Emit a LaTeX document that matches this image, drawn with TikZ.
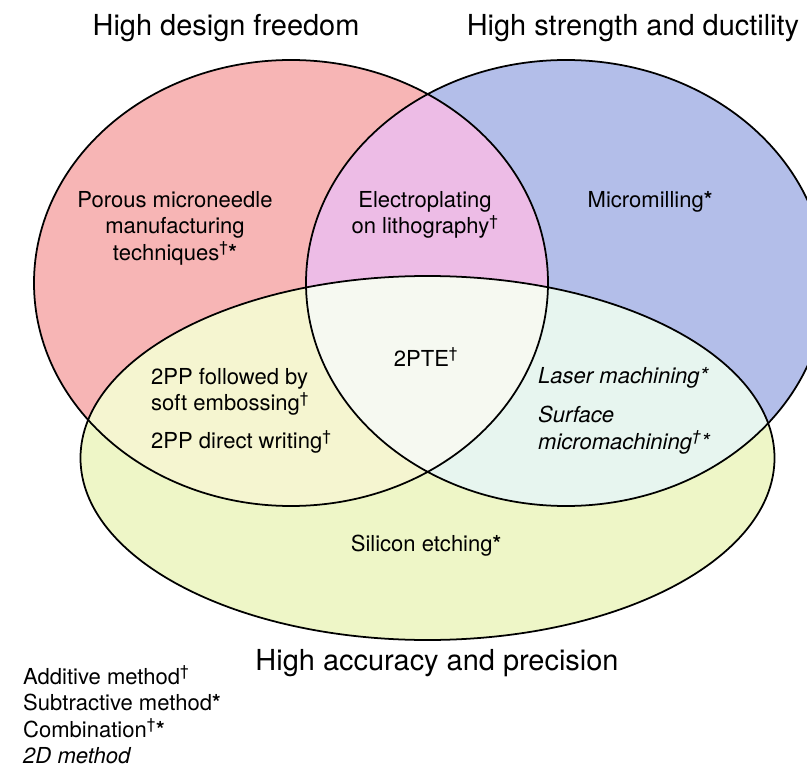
\documentclass[tikz,border=0pt]{standalone}
\usepackage{fontspec}
\setmainfont{TeX Gyre Heros}
\usetikzlibrary{shapes,positioning}

\definecolor{freedomred}{HTML}{F7B5B5}
\definecolor{strengthblue}{HTML}{B3BEE9}
\definecolor{accuracyyellow}{HTML}{EEF6C7}
\definecolor{redblue}{HTML}{EDBCE6}
\definecolor{redyellow}{HTML}{F5F5D0}
\definecolor{blueyellow}{HTML}{E7F5EF}
\definecolor{allthree}{HTML}{F6F9F1}

\def\freedomset{(291,283) ellipse [x radius=257, y radius=223]}
\def\strengthset{(566,283) ellipse [x radius=260, y radius=223]}
\def\accuracyset{(427.5,458) ellipse [x radius=347, y radius=182]}

\tikzset{
  lbl/.style={font=\fontsize{18.8}{22.6}\selectfont, inner sep=0pt},
  settitle/.style={font=\fontsize{24.7}{29}\selectfont, inner sep=0pt},
}
\newcommand{\subtr}{\textbf{*}}

\begin{document}
\begin{tikzpicture}[x=0.03cm, y=-0.03cm]
            \useasboundingbox (0,0) rectangle (807,765);
            \clip (0,0) rectangle (807,765);
            % the three sets
            \fill[freedomred] \freedomset;
            \fill[strengthblue] \strengthset;
            \fill[accuracyyellow] \accuracyset;
            % overlaps
            \begin{scope}
                \clip \freedomset;
                \fill[redblue] \strengthset;
                \fill[redyellow] \accuracyset;
            \end{scope}
            \begin{scope}
                \clip \strengthset;
                \fill[blueyellow] \accuracyset;
            \end{scope}
            \begin{scope}
                \clip \freedomset;
                \clip \strengthset;
                \fill[allthree] \accuracyset;
            \end{scope}
            \draw[line width=1.5pt] \freedomset;
            \draw[line width=1.5pt] \strengthset;
            \draw[line width=1.5pt] \accuracyset;

            \node[settitle] (freedom) at (226,28) {High design freedom};
            \node[settitle] (strength) at (633,28) {High strength and ductility};
            \node[settitle] (accuracy) at (437,663) {High accuracy and precision};

            \node[lbl, align=center] (porous) at (175,228) {Porous microneedle\\manufacturing\\techniques\textsuperscript{†}\subtr};
            \node[lbl, align=center] (electro) at (425,215) {Electroplating\\on lithography\textsuperscript{†}};
            \node[lbl] (milling) at (650,202) {Micromilling\subtr};
            \node[lbl] (twopte) at (426,357) {2PTE\textsuperscript{†}};
            \node[lbl, align=left, anchor=west] (embossing) at (151,392) {2PP followed by\\soft embossing\textsuperscript{†}};
            \node[lbl, anchor=west] (direct) at (151,442) {2PP direct writing\textsuperscript{†}};
            \node[lbl, anchor=west] (laser) at (538,378) {\itshape Laser machining*};
            \node[lbl, align=left, anchor=west] (surface) at (538,430) {\itshape Surface\\\itshape micromachining\textsuperscript{†}*};
            \node[lbl] (silicon) at (426,546) {Silicon etching\subtr};

            \node[lbl, align=left, anchor=west] (legend) at (23,715) {Additive method\textsuperscript{†}\\Subtractive method\subtr\\Combination\textsuperscript{†}\subtr\\\itshape 2D method};
        \end{tikzpicture}
\end{document}
